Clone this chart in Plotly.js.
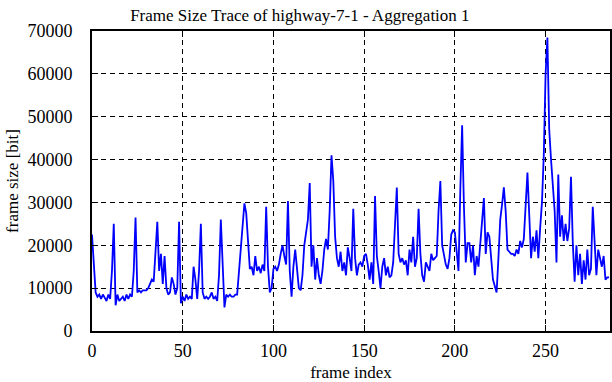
<!DOCTYPE html>
<html>
<head>
<meta charset="utf-8">
<script src="https://cdn.plot.ly/plotly-3.0.1.min.js"></script>
<style>html,body{margin:0;padding:0;background:#fff;}#chart{width:612px;height:382px;}</style>
</head>
<body>
<div id="chart"></div>
<script>
const frameSizes = [
  22500, 15000, 9000, 8000, 8500, 7500, 8500, 7800, 7000, 8500,
  7500, 14000, 25000, 6000, 8500, 7000, 7500, 8000, 7000, 8500,
  7500, 8500, 8000, 14000, 26500, 9000, 9500, 9000, 9500, 9500,
  9500, 10000, 11000, 12000, 11500, 20000, 25500, 14000, 18000, 11000,
  17500, 10000, 8500, 9000, 12500, 11000, 8500, 10000, 25500, 6500,
  8000, 7000, 8500, 7500, 8000, 7500, 15000, 12000, 7500, 14000,
  25000, 9000, 7500, 8000, 7500, 8000, 9000, 7500, 8000, 7000,
  13000, 26000, 16000, 5500, 8500, 8000, 8500, 8000, 8000, 8500,
  8500, 14000, 20500, 24500, 29800, 27500, 21000, 14500, 15000, 13000,
  17500, 14000, 15000, 13500, 15500, 14000, 29000, 15000, 9000, 10000,
  14500, 15000, 14000, 15500, 18000, 20000, 17500, 15500, 30300, 14000,
  8000, 15000, 19000, 14000, 10000, 9500, 13000, 20000, 23000, 26000,
  34500, 15000, 20000, 12000, 17000, 13000, 11000, 14000, 19000, 21500,
  19000, 28000, 41000, 35000, 22000, 17000, 15000, 18500, 14000, 16000,
  13000, 19500, 17000, 14000, 28500, 17000, 13000, 15500, 16000, 15000,
  17500, 18000, 15500, 12000, 16000, 11000, 31500, 17500, 14000, 10000,
  15000, 17000, 13000, 15000, 12500, 13000, 16000, 26000, 33500, 18000,
  16000, 17000, 15500, 16500, 13000, 19000, 16000, 22000, 15000, 17000,
  28500, 18000, 13000, 11500, 16000, 15000, 14000, 18000, 16500, 17000,
  17500, 28000, 35000, 20000, 17500, 15500, 14500, 17000, 22500, 23500,
  23000, 19000, 14000, 33000, 48000, 29000, 16000, 20500, 20500, 16000,
  20000, 13000, 17500, 15000, 20000, 25000, 31000, 18000, 23000, 22000,
  17000, 12000, 10500, 9000, 17000, 26000, 29500, 33500, 28000, 19000,
  18500, 18000, 18000, 17500, 19000, 18000, 21000, 19500, 21500, 30000,
  37000, 27000, 17000, 22000, 18500, 23500, 17000, 24000, 30000, 41000,
  60000, 68500, 47000, 40000, 34000, 28000, 16000, 36500, 22000, 27000,
  21000, 25000, 21000, 24000, 36000, 20500, 11500, 20000, 13000, 18000,
  11000, 16500, 12000, 19000, 13000, 14500, 29000, 22000, 13000, 19000,
  17000, 15000, 17500, 12000, 12500, 12500
];
const frameIndex = frameSizes.map((_, i) => i);
const xTicks = [0, 50, 100, 150, 200, 250];
const yTicks = [0, 10000, 20000, 30000, 40000, 50000, 60000, 70000];

const family = '"Liberation Serif", "Times New Roman", serif';
const font = {family: family, size: 17, color: '#000'};
const tickFont = {family: family, size: 18, color: '#000'};

const axisCommon = {
  showline: true, linecolor: '#000', linewidth: 2, mirror: 'allticks',
  ticks: 'inside', ticklen: 6, tickwidth: 1, tickcolor: '#000',
  showgrid: true, gridcolor: '#000', gridwidth: 1, griddash: '5px,4px',
  zeroline: false, tickfont: tickFont
};

Plotly.newPlot('chart', [{
  x: frameIndex, y: frameSizes, type: 'scatter', mode: 'lines',
  line: {color: '#0000ff', width: 1.8}
}], {
  width: 612, height: 382,
  margin: {l: 92, r: 2, t: 31, b: 51},
  paper_bgcolor: '#fff', plot_bgcolor: '#fff',
  showlegend: false,
  font: font,
  title: {text: 'Frame Size Trace of highway-7-1 - Aggregation 1', font: font, x: 0.49, xanchor: 'center', y: 0.975, yanchor: 'top'},
  xaxis: Object.assign({}, axisCommon, {
    range: [0, 285.5], tickvals: xTicks, ticktext: xTicks.map(String),
    ticklabelstandoff: 2,
    title: {text: 'frame index', font: font, standoff: 10}
  }),
  yaxis: Object.assign({}, axisCommon, {
    range: [0, 70000], tickvals: yTicks, ticktext: yTicks.map(String),
    ticklabelstandoff: 14,
    title: {text: 'frame size [bit]', font: font, standoff: 4}
  })
}, {staticPlot: true, displayModeBar: false});
</script>
</body>
</html>
